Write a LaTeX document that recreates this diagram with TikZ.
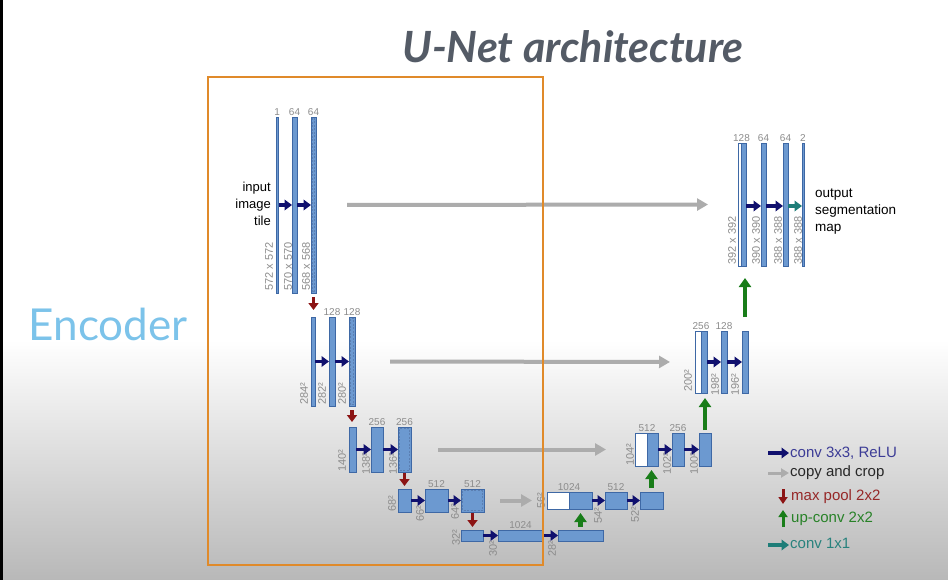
\documentclass[tikz,border=0pt]{standalone}
\usepackage{fontspec}
\setmainfont{Liberation Sans}
\newfontfamily\titlefont{Lato}
\usetikzlibrary{arrows.meta}
\definecolor{barfill}{RGB}{108,153,208}
\definecolor{barline}{RGB}{62,104,165}
\definecolor{lblgray}{RGB}{140,140,140}
\definecolor{convblue}{RGB}{16,16,110}
\definecolor{copygray}{RGB}{172,172,172}
\definecolor{poolred}{RGB}{140,20,20}
\definecolor{upgreen}{RGB}{25,125,25}
\definecolor{tealc}{RGB}{30,125,120}
\definecolor{encblue}{RGB}{124,195,234}
\definecolor{titlegray}{RGB}{84,91,102}
\definecolor{boxorange}{RGB}{224,138,42}
\definecolor{bggray}{RGB}{184,184,184}
\definecolor{legblue}{RGB}{60,60,150}
\definecolor{legred}{RGB}{150,40,40}
\definecolor{leggreen}{RGB}{40,130,40}
\definecolor{legteal}{RGB}{40,130,125}
\definecolor{legdark}{RGB}{40,40,40}
\tikzset{
  barst/.style={draw=barline, fill=barfill, line width=0.7pt, inner sep=0pt, outer sep=0pt},
  whitebar/.style={draw=barline, fill=white, line width=0.7pt, inner sep=0pt, outer sep=0pt},
  dashin/.style={draw=barline!85!white, line width=0.45pt, dash pattern=on 2pt off 1.5pt},
  toplab/.style={anchor=south, inner sep=1.5pt, text=lblgray, font=\fontsize{10}{10}\selectfont},
  vlabst/.style={rotate=90, anchor=west, inner sep=0pt, text=lblgray, font=\fontsize{11}{11}\selectfont},
  conv/.style={convblue, line width=3.5pt, -{Triangle[length=7.5pt,width=10.5pt]}},
  convteal/.style={tealc, line width=3.5pt, -{Triangle[length=7.5pt,width=10.5pt]}},
  copyarr/.style={copygray, line width=4pt, -{Triangle[length=11pt,width=12pt]}},
  pool/.style={poolred, line width=3.5pt, -{Triangle[length=7pt,width=10pt]}},
  upc/.style={upgreen, line width=4.5pt, -{Triangle[length=9pt,width=12pt]}},
  legtext/.style={anchor=west, inner sep=1pt, font=\fontsize{15}{16}\selectfont},
}
\newcommand\mkbar[6][barst]{\node[#1,minimum width={(#5-#3)*1pt},minimum height={(#6-#4)*1pt}] (#2) at ({(#3+#5)/2},{(#4+#6)/2}) {};}
\newcommand\mkvlab[4]{\node[vlabst] (#1) at (#2,#3) {#4};}
\newcommand\innerdash[1]{\draw[dashin] ([shift={(1.5,1.5)}]#1.north west) rectangle ([shift={(-1.5,-1.5)}]#1.south east);}
\begin{document}
\begin{tikzpicture}[x=1pt,y=-1pt]
\useasboundingbox (0,0) rectangle (948,580);
\fill[white] (0,0) rectangle (948,580);
\shade[top color=white, bottom color=bggray] (0,340) rectangle (948,580);
\fill[black] (0,0) rectangle (3,580);

% title and encoder label
\node[font=\titlefont\bfseries\itshape\fontsize{43}{45}\selectfont, text=titlegray] (title) at (573,47) {U-Net architecture};
\node[font=\titlefont\fontsize{44}{46}\selectfont, text=encblue] (enc) at (108,324) {Encoder};

% ---------- level 1 encoder
\mkbar{e1a}{276}{117}{278.5}{293}
\mkbar{e1b}{292}{117}{297}{293}
\mkbar{e1c}{311}{117}{316}{293}
\innerdash{e1c}
\node[toplab] (te1a) at (e1a.north) {1};
\node[toplab] (te1b) at (e1b.north) {64};
\node[toplab] (te1c) at (e1c.north) {64};
\mkvlab{v1}{269}{291}{572 x 572}
\mkvlab{v2}{288}{291}{570 x 570}
\mkvlab{v3}{306}{291}{568 x 568}
\draw[conv] (e1a.east) -- (e1b.west);
\draw[conv] (e1b.east) -- (e1c.west);
\node[align=right, anchor=east, inner sep=0pt, font=\fontsize{13}{17}\selectfont] (inp) at (271,204) {input\\image\\tile};

% ---------- level 2 encoder
\mkbar{e2a}{311}{317}{315}{406}
\mkbar{e2b}{329}{317}{335}{406}
\mkbar{e2c}{349}{317}{355}{406}
\innerdash{e2c}
\node[toplab] (te2b) at (e2b.north) {128};
\node[toplab] (te2c) at (e2c.north) {128};
\mkvlab{v4}{304}{405}{284²}
\mkvlab{v5}{322}{405}{282²}
\mkvlab{v6}{342}{405}{280²}
\draw[conv] (e2a.east) -- (e2b.west);
\draw[conv] (e2b.east) -- (e2c.west);

% ---------- level 3 encoder
\mkbar{e3a}{349}{427}{356}{472}
\mkbar{e3b}{371}{427}{383}{472}
\mkbar{e3c}{398}{427}{411}{472}
\innerdash{e3c}
\node[toplab] (te3b) at (e3b.north) {256};
\node[toplab] (te3c) at (e3c.north) {256};
\mkvlab{v7}{342}{472}{140²}
\mkvlab{v8}{366}{475}{138²}
\mkvlab{v9}{393}{475}{136²}
\draw[conv] (e3a.east) -- (e3b.west);
\draw[conv] (e3b.east) -- (e3c.west);

% ---------- level 4 encoder
\mkbar{e4a}{398}{489}{411}{512}
\mkbar{e4b}{425}{489}{448}{512}
\mkbar{e4c}{461}{489}{484}{512}
\innerdash{e4c}
\node[toplab] (te4b) at (e4b.north) {512};
\node[toplab] (te4c) at (e4c.north) {512};
\mkvlab{v10}{392}{512}{68²}
\mkvlab{v11}{420}{522}{66²}
\mkvlab{v12}{455}{520}{64²}
\draw[conv] (e4a.east) -- (e4b.west);
\draw[conv] (e4b.east) -- (e4c.west);

% ---------- bottom level
\mkbar{e5a}{461}{530}{483}{541}
\mkbar{e5b}{498}{530}{543}{541}
\mkbar{e5c}{558}{530}{603}{541}
\node[toplab] (te5b) at (e5b.north) {1024};
\mkvlab{v13}{456}{546}{32²}
\mkvlab{v14}{493}{557}{30²}
\mkvlab{v15}{552}{557}{28²}
\draw[conv] (e5a.east) -- (e5b.west);
\draw[conv] (e5b.east) -- (e5c.west);

% ---------- decoder level 4
\mkbar[whitebar]{d4w}{547}{492}{569}{509}
\mkbar{d4b}{569}{492}{592}{509}
\mkbar{d4c}{605}{492}{627}{509}
\mkbar{d4d}{640}{492}{663}{509}
\node[toplab] (td4) at (d4w.north east) {1024};
\node[toplab] (td4c) at (d4c.north) {512};
\mkvlab{v16}{541}{509}{56²}
\mkvlab{v17}{598}{524}{54²}
\mkvlab{v18}{635}{523}{52²}
\draw[conv] (d4b.east) -- (d4c.west);
\draw[conv] (d4c.east) -- (d4d.west);

% ---------- decoder level 3
\mkbar[whitebar]{d3w}{635}{433}{647}{466}
\mkbar{d3b}{647}{433}{658}{466}
\mkbar{d3c}{672}{433}{684}{466}
\mkbar{d3d}{699}{433}{711}{466}
\node[toplab] (td3) at (d3w.north east) {512};
\node[toplab] (td3c) at (d3c.north) {256};
\mkvlab{v19}{630}{466}{104²}
\mkvlab{v20}{667}{475}{102²}
\mkvlab{v21}{694}{475}{100²}
\draw[conv] (d3b.east) -- (d3c.west);
\draw[conv] (d3c.east) -- (d3d.west);

% ---------- decoder level 2
\mkbar[whitebar]{d2w}{695}{331}{701}{393}
\mkbar{d2b}{701}{331}{707}{393}
\mkbar{d2c}{721}{331}{727}{393}
\mkbar{d2d}{742}{331}{748}{393}
\node[toplab] (td2) at (d2w.north east) {256};
\node[toplab] (td2c) at (d2c.north) {128};
\mkvlab{v22}{688}{392}{200²}
\mkvlab{v23}{715}{396}{198²}
\mkvlab{v24}{735}{396}{196²}
\draw[conv] (d2b.east) -- (d2c.west);
\draw[conv] (d2c.east) -- (d2d.west);

% ---------- decoder level 1
\mkbar[whitebar]{d1w}{738}{143}{741.5}{266}
\mkbar{d1b}{741.5}{143}{746}{266}
\mkbar{d1c}{761}{143}{766}{266}
\mkbar{d1d}{783}{143}{788}{266}
\mkbar{d1e}{802}{143}{804}{266}
\node[toplab] (td1) at (d1w.north east) {128};
\node[toplab] (td1c) at (d1c.north) {64};
\node[toplab] (td1d) at (d1d.north) {64};
\node[toplab] (td1e) at (d1e.north) {2};
\mkvlab{v25}{732}{265}{392 x 392}
\mkvlab{v26}{756}{265}{390 x 390}
\mkvlab{v27}{778}{265}{388 x 388}
\mkvlab{v28}{798}{265}{388 x 388}
\draw[conv] (d1b.east |- 0,206) -- (d1c.west |- 0,206);
\draw[conv] (d1c.east |- 0,206) -- (d1d.west |- 0,206);
\draw[convteal] (d1d.east |- 0,206) -- (d1e.west |- 0,206);
\node[align=left, anchor=west, inner sep=0pt, font=\fontsize{13.5}{17}\selectfont] (outp) at (815,212) {output\\segmentation\\map};

% ---------- copy and crop
\draw[copyarr, shorten <=31pt, shorten >=30pt] (e1c.east) -- (d1w.west);
\draw[copyarr, shorten <=35pt, shorten >=25pt] (e2c.east) -- (d2w.west);
\draw[copyarr, shorten <=27pt, shorten >=29pt] (e3c.east) -- (d3w.west);
\draw[copyarr, shorten <=16pt, shorten >=15pt] (e4c.east) -- (d4w.west);

% ---------- max pool
\draw[pool, shorten <=4pt, shorten >=7pt] (e1c.south) -- (e1c.south |- e2a.north);
\draw[pool, shorten <=4pt, shorten >=5pt] (e2c.south) -- (e2c.south |- e3a.north);
\draw[pool, shorten <=1pt, shorten >=3pt] (e3c.south) -- (e3c.south |- e4a.north);
\draw[pool, shorten <=1pt, shorten >=3pt] (e4c.south) -- (e4c.south |- e5a.north);

% ---------- up-conv
\draw[upc, shorten <=3pt, shorten >=4pt] (e5c.north) -- (e5c.north |- d4b.south);
\draw[upc, shorten <=4pt, shorten >=4pt] (d4d.north) -- (d4d.north |- d3b.south);
\draw[upc, shorten <=3pt, shorten >=5pt] (d3d.north) -- (d3d.north |- d2b.south);
\draw[upc, shorten <=14pt, shorten >=12pt] (d2d.north) -- (d2d.north |- d1b.south);

% ---------- legend
\node[legtext, text=legblue] (lg1) at (789,453) {conv 3x3, ReLU};
\node[legtext, text=legdark] (lg2) at (789,473) {copy and crop};
\node[legtext, text=legred] (lg3) at (790,497) {max pool 2x2};
\node[legtext, text=leggreen] (lg4) at (790,519) {up-conv 2x2};
\node[legtext, text=legteal] (lg5) at (789,543) {conv 1x1};
\coordinate (lg1s) at (768,453);
\coordinate (lg2s) at (768,473);
\coordinate (lg3s) at (783,489);
\coordinate (lg3e) at (783,504);
\coordinate (lg4s) at (783,527);
\coordinate (lg4e) at (783,510);
\coordinate (lg5s) at (768,545);
\draw[conv] (lg1s) -- (lg1.west);
\draw[copyarr, line width=3pt, -{Triangle[length=8pt,width=9pt]}] (lg2s) -- (lg2.west);
\draw[pool, line width=3pt, -{Triangle[length=7pt,width=9pt]}] (lg3s) -- (lg3e);
\draw[upc, line width=3pt, -{Triangle[length=7pt,width=9pt]}] (lg4s) -- (lg4e);
\draw[convteal] (lg5s) -- (lg5.west |- lg5s);

% ---------- encoder box
\draw[boxorange, line width=2pt] (208,77) rectangle (543,565);
\end{tikzpicture}
\end{document}
